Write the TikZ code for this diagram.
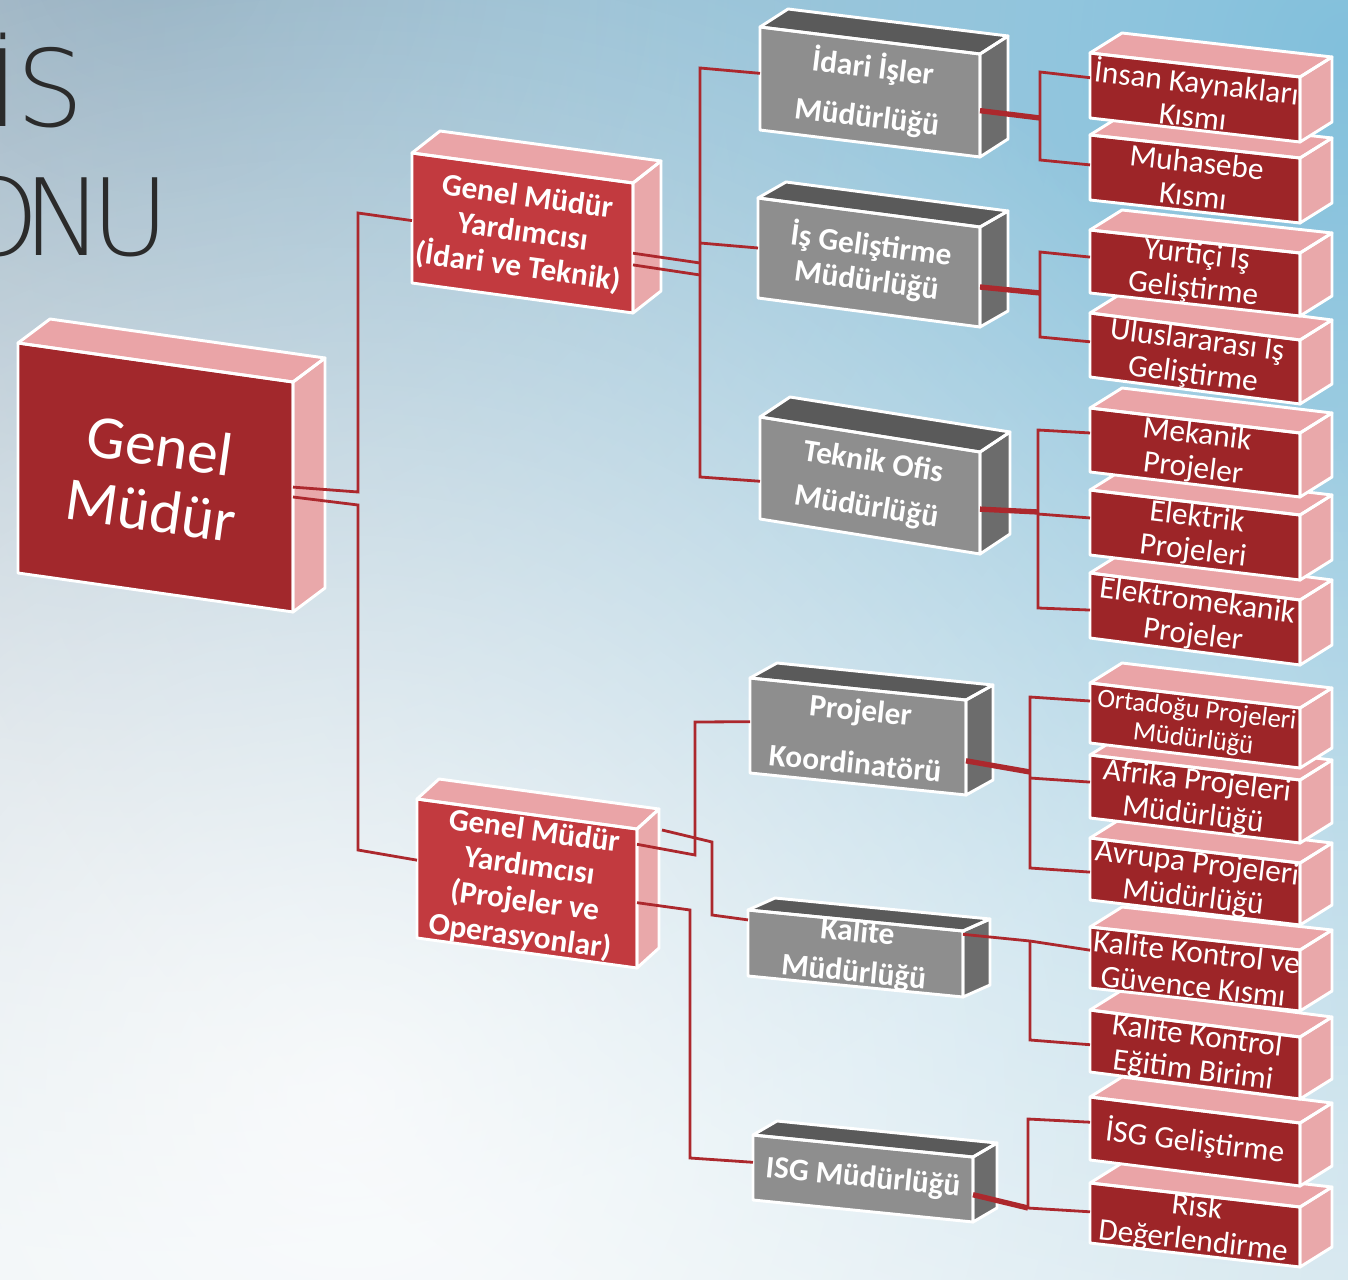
\documentclass[tikz,border=0pt]{standalone}
\usepackage{fontspec}
\setmainfont{Carlito}
\IfFontExistsTF{DejaVu Sans ExtraLight}{\newfontfamily\titlefont{DejaVu Sans ExtraLight}}{\newfontfamily\titlefont{Open Sans}}
\usetikzlibrary{calc,fadings}
\definecolor{cbg}{HTML}{E6EFF3}
\definecolor{cbgtl}{HTML}{9BAEBD}
\definecolor{cbgtr}{HTML}{82C0DC}
\definecolor{cconn}{HTML}{AC282D}
\definecolor{cmfront}{HTML}{A2282C}
\definecolor{cyfront}{HTML}{C23A3F}
\definecolor{crfront}{HTML}{9D2528}
\definecolor{cptop}{HTML}{EAA4A7}
\definecolor{cpside}{HTML}{E9A8AA}
\definecolor{cgfront}{HTML}{8E8E8E}
\definecolor{cgtop}{HTML}{5A5A5A}
\definecolor{cgside}{HTML}{6C6C6C}
\definecolor{ctitle}{HTML}{2B2B2B}
\tikzfading[name=radfade, inner color=transparent!0, outer color=transparent!100]

% #1 name, #2 front top-left x,y, #3 width, #4 height, #5 drop of top edge,
% #6 depth vector, #7 kind, #8 text style, #9 text
\newcommand\cub[9]{%
  \coordinate (#1-tl) at (#2);
  \coordinate (#1-tr) at ($(#1-tl)+(#3,#5)$);
  \coordinate (#1-br) at ($(#1-tr)+(0,#4)$);
  \coordinate (#1-bl) at ($(#1-tl)+(0,#4)$);
  \fill[#7top] (#1-tl) -- (#1-tr) -- ++(#6) -- ($(#1-tl)+(#6)$) -- cycle;
  \fill[#7side] (#1-tr) -- ++(#6) -- ($(#1-br)+(#6)$) -- (#1-br) -- cycle;
  \fill[#7front] (#1-tl) -- (#1-tr) -- (#1-br) -- (#1-bl) -- cycle;
  \pgfmathsetmacro\cubang{-atan2(#5,#3)}%
  \node[boxtext,#8,rotate=\cubang] (#1) at ($(#1-tl)!0.5!(#1-br)$) {#9};
  \draw[boxedge] (#1-tl) -- (#1-tr) -- ++(#6) -- ($(#1-tl)+(#6)$) -- cycle;
  \draw[boxedge] (#1-tr) -- ++(#6) -- ($(#1-br)+(#6)$) -- (#1-br) -- cycle;
  \draw[boxedge] (#1-tl) -- (#1-tr) -- (#1-br) -- (#1-bl) -- cycle;
}

\begin{document}
\begin{tikzpicture}[x=0.75pt,y=-0.75pt,
  boxedge/.style={draw=white,line width=2.2pt,line join=round},
  boxtext/.style={text=white,align=center,inner sep=0pt},
  kmtop/.style={fill=cptop}, kmside/.style={fill=cpside}, kmfront/.style={fill=cmfront},
  kytop/.style={fill=cptop}, kyside/.style={fill=cpside}, kyfront/.style={fill=cyfront},
  krtop/.style={fill=cptop}, krside/.style={fill=cpside}, krfront/.style={fill=crfront},
  kgtop/.style={fill=cgtop}, kgside/.style={fill=cgside}, kgfront/.style={fill=cgfront},
  gmtext/.style={font=\fontsize{46}{49}\selectfont},
  gytext/.style={font=\bfseries\fontsize{23.5}{26.5}\selectfont},
  rtext/.style={font=\fontsize{23.5}{25.5}\selectfont},
  titletext/.style={font=\titlefont\fontsize{80}{80}\selectfont,text=ctitle,inner sep=0pt},
  conn/.style={draw=cconn,line width=2.1pt,line join=miter},
  thickconn/.style={draw=cconn,line width=4pt}]
\useasboundingbox (0,0) rectangle (1348,1280);
\clip (0,0) rectangle (1348,1280);
% background
\fill[cbg] (0,0) rectangle (1348,1280);
\fill[cbgtl, path fading=radfade] (150,-50) circle (1300);
\fill[cbgtr, path fading=radfade] (1348,50) circle (1500);
\fill[white, path fading=radfade, opacity=0.8] (350,1100) circle (1200);

% title (cut at left edge)
\node[titletext, anchor=base east] (title1) at (84,127) {İ\kern-2pt S};
\node[titletext, anchor=base east] (title2) at (170,255) {O\kern-12pt N\kern-9pt U};

% main boxes
\cub{gm}{18,343}{275}{230}{39}{32,-24}{km}{gmtext}{Genel\\Müdür}
\cub{gmy1}{412,153}{221}{130}{30}{28,-22}{ky}{gytext}{Genel Müdür\\Yardımcısı\\(İdari ve Teknik)}
\cub{gmy2}{417,799}{220}{139}{30}{22,-20}{ky}{gytext,yshift=-1pt}{Genel Müdür\\Yardımcısı\\(Projeler ve\\Operasyonlar)}

% grey boxes
\cub{idari}{760,27}{220}{103}{27}{28,-18}{kg}{font=\bfseries\fontsize{23.5}{37}\selectfont}{İdari İşler\\Müdürlüğü}
\cub{isgel}{758,198}{222}{100}{29}{28,-16}{kg}{font=\bfseries\fontsize{23.5}{26.5}\selectfont}{İş Geliştirme\\Müdürlüğü}
\cub{teknik}{760,417}{220}{102}{35}{30,-20}{kg}{font=\bfseries\fontsize{23.5}{34}\selectfont}{Teknik Ofis\\Müdürlüğü}
\cub{proj}{750,678}{216}{95}{22}{27,-15}{kg}{font=\bfseries\fontsize{23.5}{40}\selectfont}{Projeler\\Koordinatörü}
\cub{kal}{748,910}{215}{66}{21}{27,-12}{kg}{font=\bfseries\fontsize{23.5}{30}\selectfont}{Kalite\\Müdürlüğü}
\cub{isg}{753,1135}{220}{65}{22}{24,-14}{kg}{font=\bfseries\fontsize{23.5}{26}\selectfont}{ISG Müdürlüğü}

% right column (bottom first)
\cub{risk}{1090,1183}{210}{60}{24}{32,-20}{kr}{rtext}{Risk\\Değerlendirme}
\cub{isgg}{1090,1097}{210}{63}{26}{32,-20}{kr}{rtext}{İSG Geliştirme}
\cub{kke}{1090,1010}{210}{62}{27}{32,-20}{kr}{rtext}{Kalite Kontrol\\Eğitim Birimi}
\cub{kkg}{1090,927}{210}{61}{23}{32,-20}{kr}{rtext}{Kalite Kontrol ve\\Güvence Kısmı}
\cub{avr}{1090,838}{210}{62}{25}{32,-20}{kr}{rtext}{Avrupa Projeleri\\Müdürlüğü}
\cub{afr}{1090,755}{210}{63}{25}{32,-20}{kr}{rtext}{Afrika Projeleri\\Müdürlüğü}
\cub{ort}{1090,683}{210}{60}{25}{32,-20}{kr}{font=\fontsize{20}{22}\selectfont}{Ortadoğu Projeleri\\Müdürlüğü}
\cub{elm}{1090,573}{210}{65}{27}{32,-20}{kr}{rtext}{Elektromekanik\\Projeler}
\cub{elk}{1090,490}{210}{65}{25}{32,-20}{kr}{rtext}{Elektrik\\Projeleri}
\cub{mek}{1090,408}{210}{64}{25}{32,-20}{kr}{rtext}{Mekanik\\Projeler}
\cub{ulus}{1090,313}{210}{64}{27}{32,-20}{kr}{rtext}{Uluslararası Iş\\Geliştirme}
\cub{yurt}{1090,230}{210}{63}{23}{32,-20}{kr}{rtext}{Yurtiçi Iş\\Geliştirme}
\cub{muh}{1090,135}{210}{65}{23}{32,-20}{kr}{rtext}{Muhasebe\\Kısmı}
\cub{ik}{1090,53}{210}{65}{24}{32,-20}{kr}{rtext}{İnsan Kaynakları\\Kısmı}

% junction coordinates
\coordinate (m1) at (358,492); \coordinate (m2) at (358,213);
\coordinate (m3) at (358,505); \coordinate (m4) at (358,850);
\coordinate (a1) at (700,263); \coordinate (a2) at (700,275);
\coordinate (a3) at (700,68);  \coordinate (a4) at (700,477);
\coordinate (a5) at (700,243);
\coordinate (b0) at (1040,118); \coordinate (b1) at (1040,72); \coordinate (b2) at (1040,160);
\coordinate (b3) at (1040,293); \coordinate (b4) at (1040,252); \coordinate (b5) at (1040,337);
\coordinate (b6) at (1038,512); \coordinate (b7) at (1038,430); \coordinate (b8) at (1038,514);
\coordinate (b9) at (1038,608);
\coordinate (p0) at (1030,772); \coordinate (p1) at (1030,697); \coordinate (p2) at (1030,778);
\coordinate (p3) at (1030,868);
\coordinate (q0) at (1030,941); \coordinate (q1) at (1030,1040);
\coordinate (s0) at (1028,1208); \coordinate (s1) at (1028,1119);
\coordinate (c1) at (695,855); \coordinate (c2) at (695,722);
\coordinate (c4) at (712,842); \coordinate (c5) at (712,915);
\coordinate (c6) at (690,910); \coordinate (c7) at (690,1158);

% connectors: Genel Mudur
\draw[conn] ($(gm-tr)!0.457!(gm-br)$) -- (m1) -- (m2) -- ($(gmy1-tl)!0.52!(gmy1-bl)$);
\draw[conn] ($(gm-tr)!0.50!(gm-br)$) -- (m3) -- (m4) -- ($(gmy2-tl)!0.44!(gmy2-bl)$);
% GMY1
\draw[conn] ($(gmy1-tr)!0.54!(gmy1-br)$) -- (a1);
\draw[conn] ($(gmy1-tr)!0.63!(gmy1-br)$) -- (a2);
\draw[conn] ($(idari-tl)!0.45!(idari-bl)$) -- (a3) -- (a4) -- ($(teknik-tl)!0.63!(teknik-bl)$);
\draw[conn] (a5) -- ($(isgel-tl)!0.5!(isgel-bl)$);
% GMY2
\draw[conn] ($(gmy2-tr)!0.11!(gmy2-br)$) -- (c1) -- (c2) -- ($(proj-tl)!0.46!(proj-bl)$);
\draw[conn] ($(gmy2-tr)+(25,1)$) -- (c4) -- (c5) -- ($(kal-tl)!0.15!(kal-bl)$);
\draw[conn] ($(gmy2-tr)!0.53!(gmy2-br)$) -- (c6) -- (c7) -- ($(isg-tl)!0.42!(isg-bl)$);
% grey boxes to right column
\draw[thickconn] ($(idari-tr)!0.55!(idari-br)$) -- (b0);
\draw[conn] ($(ik-tl)!0.38!(ik-bl)$) -- (b1) -- (b2) -- ($(muh-tl)!0.46!(muh-bl)$);
\draw[thickconn] ($(isgel-tr)!0.6!(isgel-br)$) -- (b3);
\draw[conn] ($(yurt-tl)!0.43!(yurt-bl)$) -- (b4) -- (b5) -- ($(ulus-tl)!0.45!(ulus-bl)$);
\draw[thickconn] ($(teknik-tr)!0.56!(teknik-br)$) -- (b6);
\draw[conn] ($(mek-tl)!0.39!(mek-bl)$) -- (b7) -- (b9) -- ($(elm-tl)!0.57!(elm-bl)$);
\draw[conn] (b8) -- ($(elk-tl)!0.43!(elk-bl)$);
\draw[thickconn] ($(proj-tr)!0.64!(proj-br)$) -- (p0);
\draw[conn] ($(ort-tl)!0.3!(ort-bl)$) -- (p1) -- (p3) -- ($(avr-tl)!0.55!(avr-bl)$);
\draw[conn] (p2) -- ($(afr-tl)!0.43!(afr-bl)$);
\draw[conn] ($(kal-tr)!0.05!(kal-br)$) -- (q0) -- ($(kkg-tl)!0.38!(kkg-bl)$);
\draw[conn] (q0) -- (q1) -- ($(kke-tl)!0.56!(kke-bl)$);
\draw[thickconn] ($(isg-tr)!0.58!(isg-br)$) -- (s0);
\draw[conn] (s0) -- ($(risk-tl)!0.48!(risk-bl)$);
\draw[conn] (s0) -- (s1) -- ($(isgg-tl)!0.4!(isgg-bl)$);
\end{tikzpicture}
\end{document}
